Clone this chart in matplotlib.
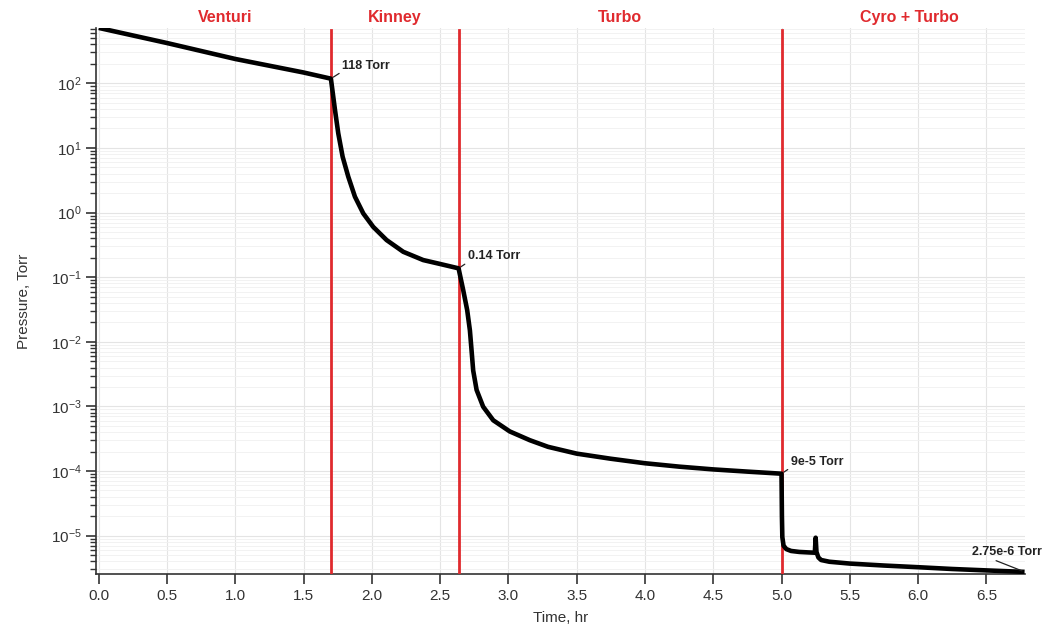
import matplotlib
matplotlib.use('Agg')
import matplotlib.pyplot as plt
import matplotlib.ticker as mticker
import matplotlib.transforms as mtransforms

plt.rcParams['font.family'] = ['Liberation Sans', 'DejaVu Sans']
plt.rcParams['mathtext.default'] = 'regular'
plt.rcParams['axes.unicode_minus'] = False

# pump-down curve
time_hr = [0.0, 0.5, 1.0, 1.5, 1.70,
           1.730, 1.754, 1.786, 1.827, 1.876, 1.937, 2.01, 2.108, 2.23, 2.376, 2.5, 2.635,
           2.669, 2.698, 2.718, 2.73, 2.742, 2.767, 2.815, 2.889, 3.01, 3.157, 3.29,
           3.5, 3.75, 4.0, 4.25, 4.5, 4.75, 5.0,
           5.003, 5.006, 5.015, 5.035, 5.07, 5.13, 5.2, 5.244, 5.25, 5.256, 5.27, 5.29,
           5.35, 5.5, 5.75, 6.0, 6.25, 6.5, 6.78]
pressure_torr = [720, 420, 238, 147, 118,
                 38.6, 16.8, 7.3, 3.6, 1.76, 0.97, 0.60, 0.375, 0.247, 0.184, 0.16, 0.137,
                 0.063, 0.031, 0.015, 0.0074, 0.0036, 0.0018, 9.9e-4, 6.1e-4, 4.1e-4, 3.0e-4,
                 2.37e-4,
                 1.86e-4, 1.55e-4, 1.32e-4, 1.17e-4, 1.06e-4, 9.8e-5, 9.1e-5,
                 2e-5, 9.5e-6, 7.0e-6, 6.2e-6, 5.8e-6, 5.6e-6, 5.5e-6, 5.45e-6, 9.3e-6, 5.6e-6,
                 4.6e-6, 4.2e-6,
                 3.95e-6, 3.7e-6, 3.45e-6, 3.25e-6, 3.05e-6, 2.9e-6, 2.75e-6]

phase_edges = [1.70, 2.635, 5.0]
phase_names = ['Venturi', 'Kinney', 'Turbo', 'Cyro + Turbo']
phase_label_x = [0.925, 2.17, 3.82, 5.94]

marks_t = [1.70, 2.635, 5.0, 6.78]
marks_p = [118, 0.137, 9.1e-5, 2.75e-6]
marks_text = ['118 Torr', '0.14 Torr', '9e-5 Torr', '2.75e-6 Torr']
marks_offset = [(11, 7), (9, 6), (9, 6), (-53, 14)]
marks_relpos = [(0, 0), (0, 0), (0, 0), (0.25, 0)]

red = '#e02a2e'

fig = plt.figure(figsize=(10.53, 6.39), dpi=100)
ax = fig.add_axes([0.0912, 0.1017, 0.8818, 0.8545])

ax.plot(time_hr, pressure_torr, color='black', lw=3.3, solid_joinstyle='round',
        solid_capstyle='butt', zorder=4)
for e in phase_edges:
    ax.axvline(e, ymax=0.996, color=red, lw=2, zorder=3)

ax.set_yscale('log')
ax.set_xlim(-0.02, 6.78)
ax.set_ylim(2.55e-6, 718)
ax.xaxis.set_major_locator(mticker.MultipleLocator(0.5))
ax.xaxis.set_major_formatter(mticker.FormatStrFormatter('%.1f'))
ax.yaxis.set_major_locator(mticker.LogLocator(base=10, numticks=20))
ax.yaxis.set_minor_locator(mticker.LogLocator(base=10, subs=range(2, 10), numticks=20))
ax.yaxis.set_minor_formatter(mticker.NullFormatter())

ax.grid(True, which='major', color='#e4e4e4', lw=0.8)
ax.grid(True, which='minor', axis='y', color='#f0f0f0', lw=0.6)
ax.set_axisbelow(True)

for s in ['top', 'right']:
    ax.spines[s].set_visible(False)
for s in ['left', 'bottom']:
    ax.spines[s].set_color('#333333')
    ax.spines[s].set_linewidth(1.2)
ax.tick_params(axis='both', which='major', direction='out', colors='#333333',
               labelcolor='#333333', labelsize=11, width=1.2)
ax.tick_params(axis='y', which='major', length=7)
ax.tick_params(axis='y', which='minor', length=4, width=1.0, colors='#333333')
ax.tick_params(axis='x', which='major', length=7)

ax.set_xlabel('Time, hr', fontsize=11, color='#333333', labelpad=6)
ax.set_ylabel('Pressure, Torr', fontsize=11, color='#333333', labelpad=14)

trans = mtransforms.blended_transform_factory(ax.transData, ax.transAxes)
for name, xp in zip(phase_names, phase_label_x):
    ax.text(xp, 1.02, name, transform=trans, ha='center', va='center',
            color=red, fontsize=11.5, fontweight='bold')

for t, p, txt, off, rp in zip(marks_t, marks_p, marks_text, marks_offset, marks_relpos):
    ax.annotate(txt, xy=(t, p), xytext=off, textcoords='offset pixels',
                ha='left', va='bottom', fontsize=9, fontweight='bold', color='#222222',
                annotation_clip=False, zorder=6,
                arrowprops=dict(arrowstyle='-', lw=0.9, color='#222222',
                                shrinkA=0, shrinkB=2, relpos=rp))

fig.savefig('out.png', dpi=100)
